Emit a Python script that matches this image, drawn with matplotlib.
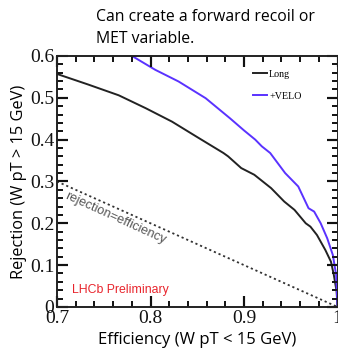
import matplotlib.pyplot as plt
from matplotlib.ticker import MultipleLocator, FormatStrFormatter

# ROC-style curves: background rejection vs signal efficiency
eff_long = [0.700, 0.733, 0.766, 0.795, 0.823, 0.850, 0.878, 0.883, 0.897,
            0.911, 0.929, 0.943, 0.954, 0.966, 0.971, 0.978, 0.987, 0.993,
            0.996, 0.999, 1.000]
rej_long = [0.557, 0.532, 0.506, 0.475, 0.443, 0.406, 0.368, 0.360, 0.332,
            0.316, 0.284, 0.252, 0.232, 0.200, 0.192, 0.172, 0.136, 0.108,
            0.077, 0.037, 0.000]

eff_velo = [0.778, 0.805, 0.830, 0.859, 0.885, 0.900, 0.912, 0.919, 0.928,
            0.944, 0.958, 0.969, 0.975, 0.982, 0.989, 0.995, 0.9985, 1.000]
rej_velo = [0.603, 0.567, 0.539, 0.499, 0.451, 0.422, 0.400, 0.384, 0.368,
            0.320, 0.288, 0.236, 0.228, 0.200, 0.164, 0.124, 0.077, 0.000]

eff_diag = [0.7, 1.0]
rej_diag = [0.3, 0.0]

fig = plt.figure(dpi=100, figsize=(3.38, 3.52))
ax = fig.add_axes([0.1686, 0.128, 0.830, 0.713])

ax.plot(eff_diag, rej_diag, color="#333333", lw=1.3, ls=(0, (1.2, 1.6)))
ax.plot(eff_long, rej_long, color="#222222", lw=1.4, label="Long")
ax.plot(eff_velo, rej_velo, color="#5a32ff", lw=1.4, label="+VELO")

ax.set_xlim(0.7, 1.0)
ax.set_ylim(0, 0.6)
ax.xaxis.set_major_locator(MultipleLocator(0.1))
ax.yaxis.set_major_locator(MultipleLocator(0.1))
ax.xaxis.set_minor_locator(MultipleLocator(0.02))
ax.yaxis.set_minor_locator(MultipleLocator(0.02))
ax.xaxis.set_major_formatter(FormatStrFormatter("%g"))
ax.yaxis.set_major_formatter(FormatStrFormatter("%g"))

# inward ticks on all four sides
ax.tick_params(which="both", direction="in", top=True, right=True,
               colors="#111111")
ax.tick_params(which="major", length=8, width=1.5, pad=2, labelsize=14,
               labelfontfamily="Liberation Serif")
ax.tick_params(which="minor", length=4.5, width=1.2)
for s in ax.spines.values():
    s.set_linewidth(1.4)
    s.set_edgecolor("#222222")

# tick marks also drawn as plain lines from the locator positions
tx = ax.get_xaxis_transform()
ty = ax.get_yaxis_transform()
xmaj = [v for v in ax.xaxis.get_majorticklocs() if 0.7 <= v <= 1.0]
xmin = [v for v in ax.xaxis.get_minorticklocs() if 0.7 <= v <= 1.0]
ymaj = [v for v in ax.yaxis.get_majorticklocs() if 0 <= v <= 0.6]
ymin = [v for v in ax.yaxis.get_minorticklocs() if 0 <= v <= 0.6]
for locs, ln, lw in [(xmaj, 0.044, 1.5), (xmin, 0.024, 1.2)]:
    for v in locs:
        ax.plot([v, v], [0, ln], transform=tx, color="#111111", lw=lw,
                clip_on=False, solid_capstyle="butt")
        ax.plot([v, v], [1 - ln, 1], transform=tx, color="#111111", lw=lw,
                clip_on=False, solid_capstyle="butt")
for locs, ln, lw in [(ymaj, 0.039, 1.5), (ymin, 0.021, 1.2)]:
    for v in locs:
        ax.plot([0, ln], [v, v], transform=ty, color="#111111", lw=lw,
                clip_on=False, solid_capstyle="butt")
        ax.plot([1 - ln, 1], [v, v], transform=ty, color="#111111", lw=lw,
                clip_on=False, solid_capstyle="butt")

ax.legend(loc="upper left", bbox_to_anchor=(0.699, 0.945), frameon=False,
          prop={"family": "Liberation Serif", "size": 7.2},
          borderpad=0, borderaxespad=0,
          handlelength=1.4, handletextpad=0.2, labelspacing=1.3)

ax.text(0.763, 0.213, "rejection=efficiency", rotation=-24.5, color="#555555",
        fontsize=9.3, ha="center", va="center", family="Liberation Sans",
        rotation_mode="anchor")
ax.text(0.716, 0.041, "LHCb Preliminary", color="#e8242c", fontsize=8.8,
        family="Liberation Sans", va="center")

ax.set_xlabel("Efficiency (W pT < 15 GeV)", family="Open Sans", fontsize=12,
              labelpad=4)
ax.set_ylabel("Rejection (W pT > 15 GeV)", family="Open Sans", fontsize=11.8,
              labelpad=2)

fig.text(0.284, 0.975, "Can create a forward recoil or\nMET variable.",
         family="Open Sans", fontsize=11.3, ha="left", va="top", linespacing=1.5)

fig.savefig("out.png", dpi=100)
